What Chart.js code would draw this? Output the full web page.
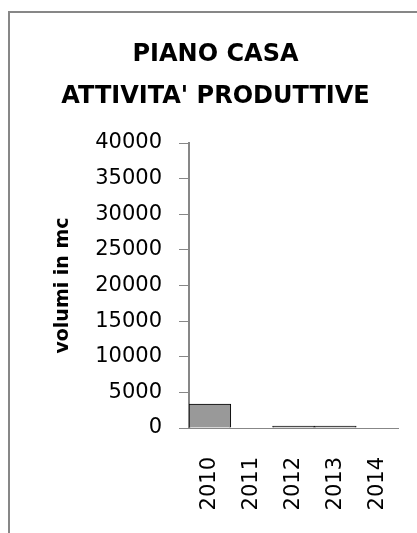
<!DOCTYPE html>
<html>
<head>
<meta charset="utf-8">
<script src="https://cdn.jsdelivr.net/npm/chart.js@4/dist/chart.umd.min.js"></script>
<style>
  html, body { margin: 0; padding: 0; background: #fff; overflow: hidden; }
  #wrap { position: relative; width: 417px; height: 533px; }
  #frame { position: absolute; left: 8px; top: 11px; width: 600px; height: 700px; border: 2px solid #878787; box-sizing: border-box; }
  #c { position: absolute; left: 0; top: 0; }
</style>
</head>
<body>
<div id="wrap">
  <div id="frame"></div>
  <canvas id="c" width="417" height="533"></canvas>
</div>
<script>
// dati
const years = ['2010', '2011', '2012', '2013', '2014'];
const volumes = [3370, 0, 280, 280, 0];
const titleLines = ['PIANO CASA', "ATTIVITA' PRODUTTIVE"];
const yTitle = 'volumi in mc';
const yMax = 40000;
const yStep = 5000;

const axisGray = '#878787';

new Chart(document.getElementById('c'), {
  type: 'bar',
  data: {
    labels: years,
    datasets: [{
      data: volumes,
      backgroundColor: '#999999',
      borderColor: '#000000',
      borderWidth: 1,
      borderSkipped: 'start',
      barPercentage: 1,
      categoryPercentage: 1,
    }],
  },
  options: {
    responsive: false,
    animation: false,
    layout: { padding: { left: 14, right: 0, top: 0, bottom: 0 } },
    plugins: {
      legend: { display: false },
      tooltip: { enabled: false },
      title: {
        display: true,
        text: titleLines,
        color: '#000',
        font: { family: 'DejaVu Sans', size: 24, weight: 'bold', lineHeight: 1.73 },
        padding: { top: 34, bottom: 26 },
      },
    },
    scales: {
      x: {
        grid: { display: false, drawTicks: false },
        border: { display: true, color: axisGray, width: 1 },
        ticks: {
          color: '#000',
          font: { family: 'DejaVu Sans', size: 21 },
          minRotation: 90, maxRotation: 90,
          autoSkip: false,
          padding: 29,
        },
        afterFit: s => { s.height = 105; s.paddingLeft = 0; s.paddingRight = 19; },
      },
      y: {
        min: 0,
        max: yMax,
        grid: { drawOnChartArea: false, drawTicks: true, tickLength: 10, color: axisGray, lineWidth: 1 },
        border: { display: true, color: axisGray, width: 2 },
        ticks: {
          stepSize: yStep,
          color: '#000',
          font: { family: 'DejaVu Sans', size: 21 },
          padding: 17,
          callback: v => String(v),
        },
        title: {
          display: true,
          text: yTitle,
          color: '#000',
          font: { family: 'DejaVu Sans', size: 19, weight: 'bold' },
          padding: { top: 38, bottom: 0 },
        },
        afterFit: s => { s.width = 175; },
      },
    },
  },
});
</script>
</body>
</html>
